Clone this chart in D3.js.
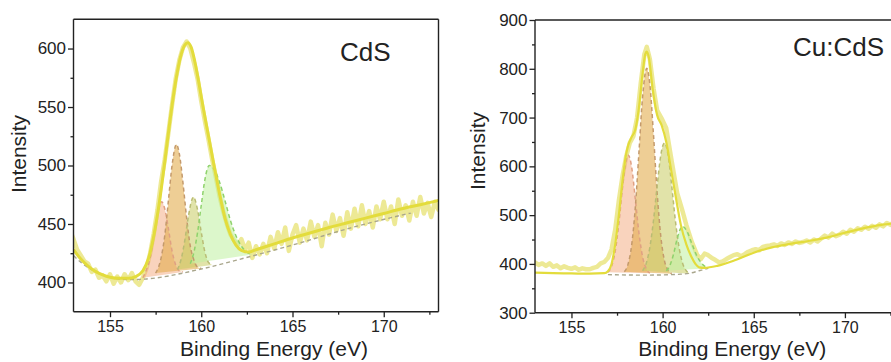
<!DOCTYPE html>
<html><head><meta charset="utf-8">
<script src="https://cdn.jsdelivr.net/npm/d3@7"></script>
<style>
body{margin:0;background:#fff}
svg{display:block}
text{font-family:"Liberation Sans",Arial,Helvetica,sans-serif;fill:#222}
</style>
</head><body>
<svg id="chart" width="891" height="362"></svg>
<script>
// ---------- shared axis data ----------
const xTicks = [155, 160, 165, 170];
const xMinorTicks = [157.5, 162.5, 167.5, 172.5];
const xTitle = "Binding Energy (eV)";
const yTitle = "Intensity";

// ---------- CdS panel ----------
const cdsLabel = "CdS";
const cdsYTicks = [400, 450, 500, 550, 600];
const cdsYMinor = [425, 475, 525, 575];
const cdsRaw = [[152.8,445],[153.0,437],[153.2,428],[153.4,423],[153.6,418],[153.8,416],[154.0,409],[154.2,411],[154.4,404],[154.6,406],[154.8,401],[155.0,407],[155.2,399],[155.4,405],[155.6,400],[155.8,407],[156.0,402],[156.2,408],[156.4,401],[156.6,398],[156.8,404],[157.0,412],[157.2,425],[157.4,442],[157.6,462],[157.8,486],[158.0,505],[158.2,528],[158.4,552],[158.6,574],[158.8,590],[159.0,601],[159.2,606],[159.4,600],[159.6,588],[159.8,574],[160.0,555],[160.2,538],[160.4,522],[160.6,505],[160.8,490],[161.0,474],[161.2,461],[161.4,450],[161.6,441],[161.8,436],[162.0,432],[162.2,437],[162.4,428],[162.6,434],[162.8,421],[163.0,431],[163.2,424],[163.4,433],[163.6,425],[163.8,439],[164.0,429],[164.2,443],[164.4,433],[164.6,447],[164.8,427],[165.0,441],[165.2,449],[165.4,434],[165.6,446],[165.8,436],[166.0,452],[166.2,439],[166.4,449],[166.6,431],[166.8,451],[167.0,441],[167.2,458],[167.4,444],[167.6,455],[167.8,440],[168.0,460],[168.2,446],[168.4,463],[168.6,448],[168.8,466],[169.0,450],[169.2,461],[169.4,447],[169.6,465],[169.8,454],[170.0,469],[170.2,454],[170.4,465],[170.6,450],[170.8,471],[171.0,457],[171.2,466],[171.4,453],[171.6,469],[171.8,457],[172.0,473],[172.2,459],[172.4,468],[172.6,456],[172.8,469],[173.0,462],[173.2,472]];
const cdsFit = [[153,428],[153.4,420],[153.8,414],[154.2,409.5],[154.6,406.5],[155,404.5],[155.5,403.5],[156,403.5],[156.4,405],[156.8,410],[157.1,420],[157.4,440],[157.7,468],[158.0,503],[158.3,540],[158.6,572],[158.9,595],[159.1,603],[159.27,605],[159.45,601],[159.7,585],[159.9,568],[160.1,550],[160.4,525],[160.7,500],[161.0,476],[161.3,455],[161.6,441],[161.9,432],[162.2,427.5],[162.6,426],[163,428],[164,433],[165,438],[166,442.5],[167,447],[168,451],[169,455],[170,459],[171,463],[172,466.5],[173,470]];
const cdsBase = [[153,423],[153.5,416],[154,411],[154.5,407],[155,404.5],[155.5,403],[156,402.5],[156.5,402.5],[157,403],[160,411.5],[162.4,421],[165,432],[168.15,446.5],[171.5,459.5]];
const cdsPeak1 = [[156.8,404],[157.0,411],[157.2,421],[157.4,439],[157.6,458],[157.83,469],[158.0,463],[158.2,446],[158.4,427],[158.6,415],[158.8,410],[159.0,409]];
const cdsPeak2 = [[157.5,408],[157.8,421],[158.0,440],[158.2,470],[158.4,500],[158.64,518],[158.8,510],[159.0,485],[159.2,455],[159.4,431],[159.6,419],[159.8,413],[160.0,412]];
const cdsPeak3 = [[158.7,411],[158.9,420],[159.1,436],[159.3,457],[159.57,473],[159.8,462],[160.0,443],[160.2,426],[160.4,417],[160.6,415]];
const cdsPeak4 = [[159.4,416],[159.6,426],[159.8,443],[160.0,466],[160.2,488],[160.44,500],[160.7,497],[161.0,486],[161.3,470],[161.6,453],[161.9,440],[162.2,431],[162.5,426],[162.8,424]];

// ---------- Cu:CdS panel ----------
const cucdsLabel = "Cu:CdS";
const cuYTicks = [300, 400, 500, 600, 700, 800, 900];
const cuYMinor = [350, 450, 550, 650, 750, 850];
const cuRaw = [[152.9,404],[153.0,403],[153.2,398],[153.4,401],[153.6,396],[153.8,401],[154.0,394],[154.2,397],[154.4,391],[154.6,395],[154.8,392],[155.0,390],[155.2,393],[155.4,388],[155.6,391],[155.8,389],[156.0,389],[156.2,392],[156.4,394],[156.6,401],[156.8,404],[157.0,412],[157.2,430],[157.4,470],[157.6,530],[157.8,580],[158.0,620],[158.2,648],[158.4,662],[158.6,700],[158.8,770],[159.0,830],[159.13,845],[159.3,820],[159.5,760],[159.7,715],[159.95,698],[160.2,678],[160.5,610],[160.8,545],[161.05,514],[161.3,480],[161.6,445],[161.9,418],[162.1,410],[162.3,421],[162.5,418],[162.7,412],[162.9,408],[163.1,403],[163.3,405],[163.5,410],[163.7,414],[163.9,418],[164.1,420],[164.3,416],[164.5,420],[164.7,425],[164.9,428],[165.1,430],[165.3,428],[165.5,435],[165.7,437],[165.9,438],[166.1,440],[166.3,437],[166.5,442],[166.7,439],[166.9,444],[167.1,441],[167.3,446],[167.5,443],[167.7,445],[167.9,448],[168.1,444],[168.3,450],[168.5,446],[168.7,452],[168.9,458],[169.1,454],[169.3,462],[169.5,457],[169.7,460],[169.9,466],[170.1,462],[170.3,470],[170.5,466],[170.7,473],[170.9,470],[171.1,476],[171.3,472],[171.5,478],[171.7,474],[171.9,481],[172.1,477],[172.3,484],[172.5,480],[172.7,486],[172.9,482],[173.1,487]];
const cuFit = [[153.0,382],[154,381],[155,380.5],[156,380],[156.8,381],[157.0,385],[157.2,400],[157.4,440],[157.6,500],[157.8,570],[158.0,625],[158.12,644],[158.3,660],[158.5,675],[158.7,720],[158.9,790],[159.05,830],[159.13,835],[159.25,822],[159.45,760],[159.7,705],[159.95,684],[160.2,650],[160.5,585],[160.77,527],[161.0,480],[161.3,440],[161.6,413],[161.8,400],[162.0,393],[162.3,392],[163,396],[164,408],[165,423],[166,434],[167,441],[168,447],[169,454],[170,464],[171,473],[172,480],[173,484]];
const cuBase = [[157,378],[159,377],[160,377.5],[161,379],[161.5,381],[162,386],[162.5,391]];
const cuPeak1 = [[157.0,383],[157.2,395],[157.4,426],[157.6,483],[157.8,556],[158.0,612],[158.12,623],[158.3,599],[158.5,534],[158.7,464],[158.9,415],[159.1,390],[159.3,381]];
const cuPeak2 = [[157.9,384],[158.1,399],[158.3,438],[158.5,515],[158.7,628],[158.9,742],[159.13,801],[159.3,768],[159.5,665],[159.7,546],[159.9,457],[160.1,407],[160.3,387],[160.5,380]];
const cuPeak3 = [[158.9,386],[159.1,401],[159.3,434],[159.5,489],[159.7,560],[159.9,623],[160.1,648],[160.3,623],[160.5,560],[160.7,489],[160.9,434],[161.1,401],[161.3,386],[161.5,380]];
const cuPeak4 = [[160.2,386],[160.4,397],[160.6,420],[160.8,452],[161.08,477],[161.35,466],[161.6,442],[161.9,415],[162.2,399],[162.5,391]];

// ---------- styles ----------
const peakFill = ["#f4a77c", "#e2ad4e", "#c8cc62", "#bff0a0"];
const peakOpacity = [0.5, 0.6, 0.55, 0.55];
const peakStroke = ["#e0a083", "#c49a6c", "#b9bc74", "#8fd26c"];

const svg = d3.select("#chart");

function drawPanel(cfg) {
  const g = svg.append("g");
  const x = d3.scaleLinear().domain([153, 173]).range([cfg.x0, cfg.x1]);
  const y = d3.scaleLinear().domain(cfg.yDom).range([cfg.yB, cfg.yT]);
  const cid = "clip" + cfg.id;
  svg.append("clipPath").attr("id", cid).append("rect")
    .attr("x", cfg.x0).attr("y", cfg.yT).attr("width", cfg.x1 - cfg.x0).attr("height", cfg.yB - cfg.yT);
  const plot = g.append("g").attr("clip-path", `url(#${cid})`);

  const smooth = d3.line().x(d => x(d[0])).y(d => y(d[1])).curve(d3.curveMonotoneX);
  const jag = d3.line().x(d => x(d[0])).y(d => y(d[1])).curve(d3.curveLinear);

  // raw data
  plot.append("path").attr("d", jag(cfg.raw)).attr("fill", "none")
    .attr("stroke", "#ebe78a").attr("stroke-opacity", 0.9).attr("stroke-width", 4.5)
    .attr("stroke-linejoin", "round").attr("stroke-linecap", "round");

  // component fills
  cfg.peaks.forEach((p, i) => {
    plot.append("path").attr("d", smooth(p) + "Z")
      .attr("fill", peakFill[i]).attr("fill-opacity", peakOpacity[i]).attr("stroke", "none");
  });
  cfg.peaks.forEach((p, i) => {
    plot.append("path").attr("d", smooth(p)).attr("fill", "none")
      .attr("stroke", peakStroke[i]).attr("stroke-width", 1.5).attr("stroke-dasharray", "4,3");
  });
  // baseline
  plot.append("path").attr("d", smooth(cfg.base)).attr("fill", "none")
    .attr("stroke", "#a9a68c").attr("stroke-width", 1.4).attr("stroke-dasharray", "4,3");

  // fitted envelope
  plot.append("path").attr("d", smooth(cfg.fit)).attr("fill", "none")
    .attr("stroke", "#e3dc3c").attr("stroke-width", cfg.fitW).attr("stroke-linejoin", "round");

  // axes
  const ax = g.append("g").attr("transform", `translate(0,${cfg.yB})`)
    .call(d3.axisBottom(x).tickValues(xTicks).tickSize(5.5).tickSizeOuter(0).tickPadding(3));
  const axm = g.append("g").attr("transform", `translate(0,${cfg.yB})`)
    .call(d3.axisBottom(x).tickValues(xMinorTicks).tickSize(3).tickSizeOuter(0).tickFormat(""));
  const ay = g.append("g").attr("transform", `translate(${cfg.x0},0)`)
    .call(d3.axisLeft(y).tickValues(cfg.yTicks).tickSize(5.5).tickSizeOuter(0).tickPadding(2));
  const aym = g.append("g").attr("transform", `translate(${cfg.x0},0)`)
    .call(d3.axisLeft(y).tickValues(cfg.yMinor).tickSize(3).tickSizeOuter(0).tickFormat(""));
  [ax, axm, ay, aym].forEach(a => {
    a.selectAll("path.domain").attr("stroke", "none");
    a.selectAll(".tick line").attr("stroke", "#222").attr("stroke-width", 1.3);
    a.selectAll(".tick text").attr("fill", "#222")
      .attr("font-family", '"Liberation Sans",Arial,sans-serif');
  });
  ax.selectAll(".tick text").attr("font-size", 16);
  ay.selectAll(".tick text").attr("font-size", 17);

  // frame
  const fr = g.append("g").attr("stroke", "#222").attr("stroke-width", 1.4).attr("fill", "none");
  fr.append("line").attr("x1", cfg.x0).attr("x2", cfg.x0).attr("y1", cfg.yT).attr("y2", cfg.yB);
  fr.append("line").attr("x1", cfg.x0).attr("x2", cfg.x1).attr("y1", cfg.yB).attr("y2", cfg.yB);
  fr.append("line").attr("x1", cfg.x0).attr("x2", cfg.x1).attr("y1", cfg.yT).attr("y2", cfg.yT);
  fr.append("line").attr("x1", cfg.x1).attr("x2", cfg.x1).attr("y1", cfg.yT).attr("y2", cfg.yB);

  // titles
  g.append("text").attr("x", (cfg.x0 + cfg.x1) / 2 + cfg.xtOff).attr("y", 356)
    .attr("text-anchor", "middle").attr("font-size", 21).text(xTitle);
  g.append("text").attr("transform", `translate(${cfg.ytX},${cfg.ytY}) rotate(-90)`)
    .attr("text-anchor", "middle").attr("font-size", 21).text(yTitle);
  g.append("text").attr("x", cfg.labX).attr("y", cfg.labY)
    .attr("font-size", 26).text(cfg.label);
}

drawPanel({id: "a", x0: 73.5, x1: 438.5, yT: 19.3, yB: 311.7, yDom: [375, 625],
  yTicks: cdsYTicks, yMinor: cdsYMinor, raw: cdsRaw, fit: cdsFit, base: cdsBase,
  peaks: [cdsPeak1, cdsPeak2, cdsPeak3, cdsPeak4], fitW: 3,
  xtOff: 18, ytX: 26, ytY: 154, labX: 340, labY: 61, label: cdsLabel});

drawPanel({id: "b", x0: 535, x1: 899.6, yT: 20, yB: 312.7, yDom: [300, 900],
  yTicks: cuYTicks, yMinor: cuYMinor, raw: cuRaw, fit: cuFit, base: cuBase,
  peaks: [cuPeak1, cuPeak2, cuPeak3, cuPeak4], fitW: 2.2,
  xtOff: 15, ytX: 485, ytY: 151, labX: 793, labY: 56, label: cucdsLabel});
</script>
</body></html>
